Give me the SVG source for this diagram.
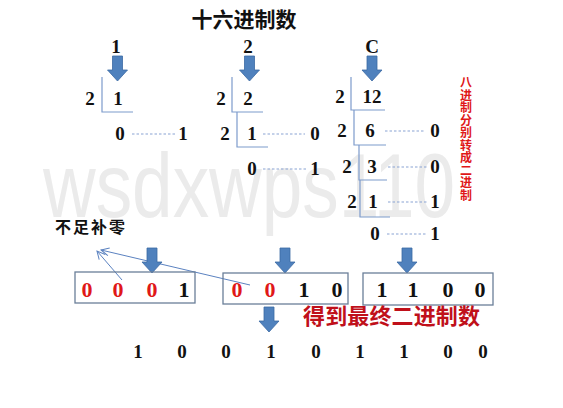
<svg xmlns="http://www.w3.org/2000/svg" xmlns:xlink="http://www.w3.org/1999/xlink" width="563" height="408" viewBox="0 0 563 408">
<style>
.d{font-family:"Liberation Serif","Times New Roman",serif;font-weight:bold;font-size:19px;fill:#111;text-anchor:middle}
.big{font-size:22px}
.r{fill:#e01818}
.br{fill:none;stroke:#7d9bcc;stroke-width:1.2}
.dash{stroke:#8aa4d4;stroke-width:1.2;stroke-dasharray:2.5,2}
.cn{font-family:"Noto Sans CJK SC",sans-serif;font-weight:bold}
.ba{fill:#4f81bd;stroke:#3b6aa3;stroke-width:0.8}
.th{fill:none;stroke:#5b82c0;stroke-width:1}
</style>
<defs>
<path id="barrow" d="M-5,0 H5 V14 H10 L0,25 L-10,14 H-5 Z"/>
<marker id="oh" markerWidth="10" markerHeight="10" refX="9" refY="5" orient="auto" markerUnits="userSpaceOnUse">
<path d="M1,1 L9,5 L1,9" fill="none" stroke="#5b82c0" stroke-width="1"/>
</marker>
</defs>
<rect width="563" height="408" fill="#fff"/>
<text x="43" y="217" font-family="Liberation Sans,Arial,sans-serif" font-size="90" fill="#ebebeb" textLength="412" lengthAdjust="spacingAndGlyphs">wsdxwps110</text>

<text id="title" x="244" y="27" class="cn" font-size="21" text-anchor="middle" fill="#111">十六进制数</text>

<g id="col1">
<text class="d" x="116" y="53">1</text>
<use xlink:href="#barrow" href="#barrow" x="117.5" y="56" class="ba"/>
<path class="br" d="M102,77 V112 H133"/>
<text class="d" x="90" y="105">2</text>
<text class="d" x="118" y="105">1</text>
<text class="d" x="120" y="140">0</text>
<text class="d" x="183" y="140">1</text>
</g>

<g id="col2">
<text class="d" x="248" y="53">2</text>
<use xlink:href="#barrow" href="#barrow" x="249.5" y="56" class="ba"/>
<path class="br" d="M232,77 V112 H263"/>
<text class="d" x="221" y="105">2</text>
<text class="d" x="248" y="105">2</text>
<path class="br" d="M237,112 V147 H268"/>
<text class="d" x="225" y="140">2</text>
<text class="d" x="252" y="140">1</text>
<text class="d" x="315" y="140">0</text>
<text class="d" x="252" y="175">0</text>
<text class="d" x="315" y="175">1</text>
</g>

<g id="col3">
<text class="d" x="372" y="53">C</text>
<use xlink:href="#barrow" href="#barrow" x="372" y="56" class="ba"/>
<path class="br" d="M351,77 V110 H385"/>
<text class="d" x="340" y="103">2</text>
<text class="d" x="372" y="103">12</text>
<path class="br" d="M354,110 V145 H386"/>
<text class="d" x="342" y="137">2</text>
<text class="d" x="370" y="137">6</text>
<text class="d" x="435" y="137">0</text>
<path class="br" d="M359,145 V180 H387"/>
<text class="d" x="347" y="173">2</text>
<text class="d" x="372" y="173">3</text>
<text class="d" x="435" y="173">0</text>
<path class="br" d="M360,180 V217 H390"/>
<text class="d" x="352" y="208">2</text>
<text class="d" x="373" y="208">1</text>
<text class="d" x="435" y="208">1</text>
<text class="d" x="375" y="240">0</text>
<text class="d" x="435" y="240">1</text>
</g>

<g id="note" class="cn" font-size="12" fill="#e01818" text-anchor="middle">
<text x="466" y="87">八</text>
<text x="466" y="99.5">进</text>
<text x="466" y="112">制</text>
<text x="466" y="124.5">分</text>
<text x="466" y="137">别</text>
<text x="466" y="149.5">转</text>
<text x="466" y="162">成</text>
<text x="466" y="174.5">二</text>
<text x="466" y="187">进</text>
<text x="466" y="199.5">制</text>
</g>

<g id="connectors">
<line class="dash" x1="132" y1="134" x2="175" y2="134"/>
<line class="dash" x1="263" y1="134" x2="305" y2="134"/>
<line class="dash" x1="263" y1="169" x2="307" y2="169"/>
<line class="dash" x1="385" y1="131" x2="425" y2="131"/>
<line class="dash" x1="388" y1="167" x2="428" y2="167"/>
<line class="dash" x1="388" y1="202" x2="428" y2="202"/>
<line class="dash" x1="387" y1="234" x2="427" y2="234"/>
<line class="th" x1="122" y1="280" x2="97" y2="251" marker-end="url(#oh)"/>
<line class="th" x1="250" y1="285" x2="101" y2="250" marker-end="url(#oh)"/>
<use xlink:href="#barrow" href="#barrow" x="152" y="248" class="ba"/>
<use xlink:href="#barrow" href="#barrow" x="285" y="248" class="ba"/>
<use xlink:href="#barrow" href="#barrow" x="407" y="248" class="ba"/>
<use xlink:href="#barrow" href="#barrow" x="269" y="307" class="ba"/>
</g>

<text id="pad" x="55" y="233" class="cn" font-size="16" fill="#111" textLength="70">不足补零</text>

<g id="box1">
<rect x="75" y="272" width="120" height="31" fill="none" stroke="#6a7f99" stroke-width="1.3"/>
<text class="d big r" x="87" y="297">0</text>
<text class="d big r" x="118" y="297">0</text>
<text class="d big r" x="152" y="297">0</text>
<text class="d big" x="184" y="297">1</text>
</g>
<g id="box2">
<rect x="223" y="273" width="125" height="31" fill="none" stroke="#6a7f99" stroke-width="1.3"/>
<text class="d big r" x="237" y="297">0</text>
<text class="d big r" x="270" y="297">0</text>
<text class="d big" x="304" y="297">1</text>
<text class="d big" x="337" y="297">0</text>
</g>
<g id="box3">
<rect x="363" y="273" width="130" height="32" fill="none" stroke="#6a7f99" stroke-width="1.3"/>
<text class="d big" x="382" y="297">1</text>
<text class="d big" x="413" y="297">1</text>
<text class="d big" x="448" y="297">0</text>
<text class="d big" x="480" y="297">0</text>
</g>

<text id="result" x="303" y="324" class="cn" font-size="22" fill="#c0101a" textLength="177">得到最终二进制数</text>

<g id="final" class="d">
<text x="138" y="358">1</text>
<text x="182" y="358">0</text>
<text x="226" y="358">0</text>
<text x="271" y="358">1</text>
<text x="316" y="358">0</text>
<text x="360" y="358">1</text>
<text x="404" y="358">1</text>
<text x="448" y="358">0</text>
<text x="483" y="358">0</text>
</g>
</svg>
